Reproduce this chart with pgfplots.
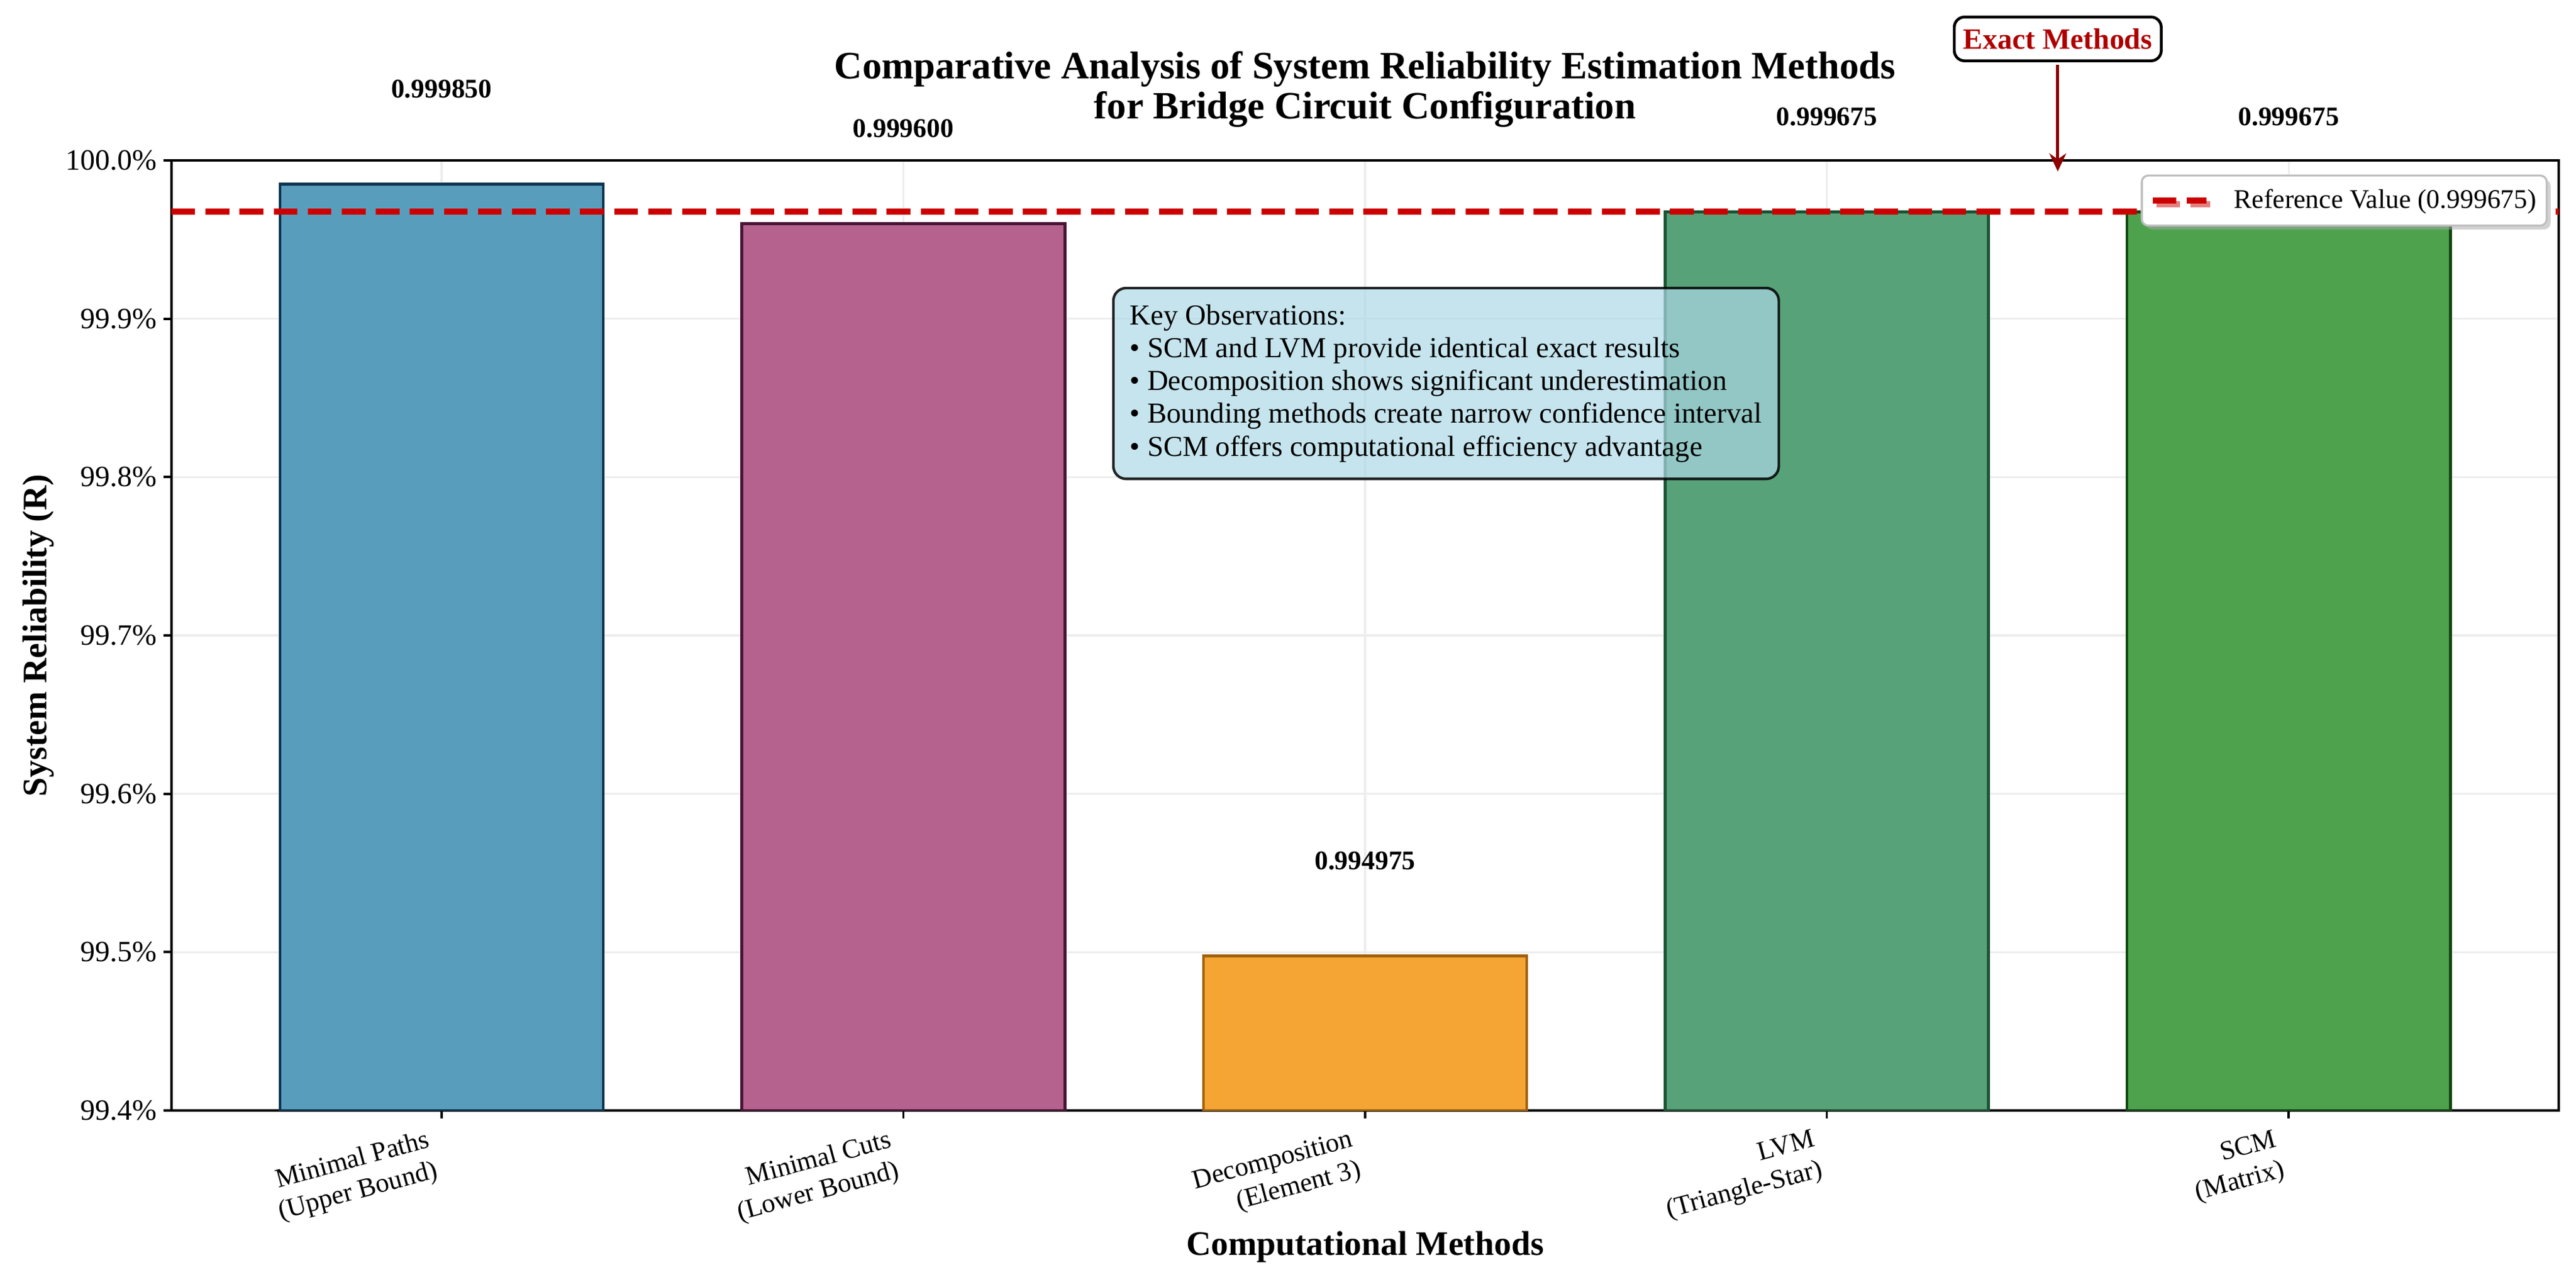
\documentclass[border=0pt]{standalone}
\usepackage{fontspec}
\setmainfont{Liberation Serif}
\usepackage{pgfplots}
\pgfplotsset{compat=1.18}
\usetikzlibrary{arrows.meta,shadows}

\definecolor{c1}{RGB}{88,158,188}
\definecolor{e1}{RGB}{12,52,80}
\definecolor{c2}{RGB}{181,98,142}
\definecolor{e2}{RGB}{74,20,52}
\definecolor{c3}{RGB}{244,165,52}
\definecolor{e3}{RGB}{160,98,10}
\definecolor{c4}{RGB}{88,162,121}
\definecolor{e4}{RGB}{28,84,52}
\definecolor{c5}{RGB}{78,162,78}
\definecolor{e5}{RGB}{18,72,18}
\definecolor{refred}{RGB}{204,0,0}
\definecolor{dred}{RGB}{139,0,0}
\definecolor{exred}{RGB}{175,0,0}
\definecolor{lblue}{RGB}{173,216,230}

\pgfplotsset{
  barsty/.style={ybar, bar width=0.7, bar shift=0pt, line width=1.1bp, forget plot,
    nodes near coords, point meta=explicit symbolic,
    every node near coord/.append style={font=\fontsize{10.5}{12}\selectfont\bfseries,
      anchor=center, yshift=37bp, text=black}},
}

\begin{document}
\begin{tikzpicture}
\begin{axis}[
  scale only axis, width=928.8bp, height=369.6bp,
  xmin=-0.585, xmax=4.585, ymin=0.994, ymax=1.0,
  xtick={0,1,2,3,4},
  xticklabels={{Minimal Paths\\(Upper Bound)},{Minimal Cuts\\(Lower Bound)},{Decomposition\\(Element 3)},{LVM\\(Triangle-Star)},{SCM\\(Matrix)}},
  ytick={0.994,0.995,0.996,0.997,0.998,0.999,1.0},
  yticklabels={99.4\%,99.5\%,99.6\%,99.7\%,99.8\%,99.9\%,100.0\%},
  xtick pos=bottom, ytick pos=left,
  tick align=outside, major tick length=3bp,
  tick style={black, line width=0.9bp},
  grid=major, major grid style={black!7, line width=0.8bp},
  axis line style={black, line width=1bp},
  clip mode=individual,
  yticklabel style={font=\fontsize{11.5}{13}\selectfont, anchor=east, inner sep=0pt, xshift=-2.5bp},
  xticklabel style={font=\fontsize{10.5}{12.2}\selectfont, align=right, inner sep=0pt, xshift=-6bp, yshift=-4bp, rotate=15, anchor=north east},
  legend style={at={(rel axis cs:1,1)}, anchor=north east, xshift=-4.3bp, yshift=-5.5bp,
    draw=black!25, rounded corners=2.5bp, fill=white, line width=0.8bp,
    font=\fontsize{10.5}{12}\selectfont, inner xsep=3bp, inner ysep=4.3bp,
    /tikz/column sep=8.5bp,
    drop shadow={shadow xshift=1.5bp, shadow yshift=-1.5bp, fill=black!35},
    nodes={inner sep=1bp}},
  legend cell align=left,
  legend image code/.code={\draw[#1] (0bp,0bp) -- (21bp,0bp);},
]
\addplot[barsty, fill=c1, draw=e1] coordinates {(0,0.999850) [0.999850]};
\addplot[barsty, fill=c2, draw=e2] coordinates {(1,0.999600) [0.999600]};
\addplot[barsty, fill=c3, draw=e3] coordinates {(2,0.994975) [0.994975]};
\addplot[barsty, fill=c4, draw=e4] coordinates {(3,0.999675) [0.999675]};
\addplot[barsty, fill=c5, draw=e5] coordinates {(4,0.999675) [0.999675]};

\addplot[refred, line width=2.4bp, dash pattern=on 9.25bp off 4bp] coordinates {(-0.585,0.999675) (4.585,0.999675)};
\addlegendentry{Reference Value (0.999675)}

\node[anchor=north west, align=left, fill=lblue, fill opacity=0.7, text opacity=1,
  draw=black, draw opacity=0.85, line width=1bp, rounded corners=5bp, inner sep=6.5bp,
  font=\fontsize{11.3}{12.8}\selectfont] at (rel axis cs:0.394,0.867)
  {Key Observations:\\• SCM and LVM provide identical exact results\\• Decomposition shows significant underestimation\\• Bounding methods create narrow confidence interval\\• SCM offers computational efficiency advantage};

\node[draw=black, line width=1.1bp, rounded corners=4bp, fill=white, text=exred,
  font=\fontsize{11.5}{13}\selectfont\bfseries, inner xsep=3.5bp, inner ysep=4.5bp]
  (em) at (axis cs:3.5,1.000767) {Exact Methods};
\draw[dred, line width=1.2bp, -{Stealth[length=7bp,width=6.5bp]}, shorten <=1bp]
  (em.south) -- (axis cs:3.5,0.99993);

\node[anchor=base, font=\fontsize{15.1}{17}\selectfont\bfseries, yshift=31.7bp]
  at (rel axis cs:0.5,1) {Comparative Analysis of System Reliability Estimation Methods};
\node[anchor=base, font=\fontsize{15.1}{17}\selectfont\bfseries, yshift=16.1bp]
  at (rel axis cs:0.5,1) {for Bridge Circuit Configuration};
\node[anchor=base, font=\fontsize{13.4}{16}\selectfont\bfseries, yshift=-56.2bp]
  at (rel axis cs:0.5,0) {Computational Methods};
\node[xshift=-51.8bp, rotate=90, font=\fontsize{13.4}{16}\selectfont\bfseries]
  at (rel axis cs:0,0.5) {System Reliability (R)};

\coordinate (bl) at (rel axis cs:0,0);
\coordinate (tr) at (rel axis cs:1,1);
\end{axis}
\pgfresetboundingbox
\path[use as bounding box] ([xshift=-66.7bp,yshift=-66.7bp]bl) rectangle ([xshift=6.7bp,yshift=62.4bp]tr);
\end{tikzpicture}
\end{document}
